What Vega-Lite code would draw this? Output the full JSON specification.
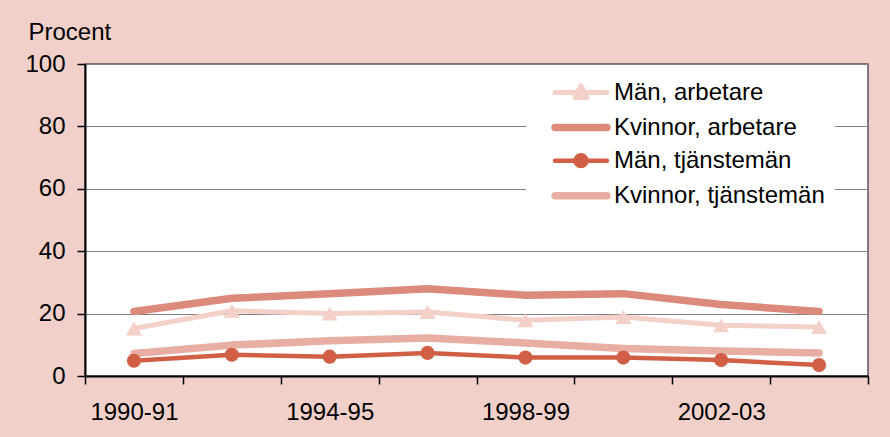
{
  "$schema": "https://vega.github.io/schema/vega-lite/v6.json",
  "autosize": "none",
  "width": 783,
  "height": 312,
  "padding": {"left": 85, "top": 64, "right": 22, "bottom": 61},
  "background": "#F1D0CA",
  "config": {
    "view": {"fill": "white", "stroke": "#555555", "strokeWidth": 1.5},
    "font": "Liberation Sans",
    "axis": {"labelFont": "Liberation Sans", "titleFont": "Liberation Sans", "labelColor": "black", "titleColor": "black"},
    "legend": {"labelFont": "Liberation Sans"}
  },
  "data": {
    "values": [
      {"period": "1990-91", "series": "Män, arbetare", "value": 15.2},
      {"period": "1992-93", "series": "Män, arbetare", "value": 20.9},
      {"period": "1994-95", "series": "Män, arbetare", "value": 20.0},
      {"period": "1996-97", "series": "Män, arbetare", "value": 20.5},
      {"period": "1998-99", "series": "Män, arbetare", "value": 17.9},
      {"period": "2000-01", "series": "Män, arbetare", "value": 18.9},
      {"period": "2002-03", "series": "Män, arbetare", "value": 16.3},
      {"period": "2004-05", "series": "Män, arbetare", "value": 15.7},
      {"period": "1990-91", "series": "Kvinnor, arbetare", "value": 20.7},
      {"period": "1992-93", "series": "Kvinnor, arbetare", "value": 24.9},
      {"period": "1994-95", "series": "Kvinnor, arbetare", "value": 26.4},
      {"period": "1996-97", "series": "Kvinnor, arbetare", "value": 28.0},
      {"period": "1998-99", "series": "Kvinnor, arbetare", "value": 25.9},
      {"period": "2000-01", "series": "Kvinnor, arbetare", "value": 26.4},
      {"period": "2002-03", "series": "Kvinnor, arbetare", "value": 22.9},
      {"period": "2004-05", "series": "Kvinnor, arbetare", "value": 20.7},
      {"period": "1990-91", "series": "Kvinnor, tjänstemän", "value": 7.2},
      {"period": "1992-93", "series": "Kvinnor, tjänstemän", "value": 9.9},
      {"period": "1994-95", "series": "Kvinnor, tjänstemän", "value": 11.3},
      {"period": "1996-97", "series": "Kvinnor, tjänstemän", "value": 12.2},
      {"period": "1998-99", "series": "Kvinnor, tjänstemän", "value": 10.6},
      {"period": "2000-01", "series": "Kvinnor, tjänstemän", "value": 8.8},
      {"period": "2002-03", "series": "Kvinnor, tjänstemän", "value": 8.0},
      {"period": "2004-05", "series": "Kvinnor, tjänstemän", "value": 7.4},
      {"period": "1990-91", "series": "Män, tjänstemän", "value": 4.9},
      {"period": "1992-93", "series": "Män, tjänstemän", "value": 6.8},
      {"period": "1994-95", "series": "Män, tjänstemän", "value": 6.2},
      {"period": "1996-97", "series": "Män, tjänstemän", "value": 7.4},
      {"period": "1998-99", "series": "Män, tjänstemän", "value": 5.9},
      {"period": "2000-01", "series": "Män, tjänstemän", "value": 5.9},
      {"period": "2002-03", "series": "Män, tjänstemän", "value": 5.1},
      {"period": "2004-05", "series": "Män, tjänstemän", "value": 3.5}
    ]
  },
  "encoding": {
    "x": {
      "field": "period", "type": "ordinal", "sort": null,
      "scale": {"type": "band", "paddingInner": 0, "paddingOuter": 0},
      "axis": {
        "title": null, "labelAngle": 0, "labelFontSize": 24, "labelPadding": 16,
        "tickBand": "extent", "tickSize": 8, "tickColor": "black", "tickWidth": 1.5,
        "domainColor": "black", "domainWidth": 2,
        "labelExpr": "indexof(['1990-91','1994-95','1998-99','2002-03'], datum.value) >= 0 ? datum.label : ''"
      }
    },
    "y": {
      "field": "value", "type": "quantitative",
      "scale": {"domain": [0, 100], "nice": false},
      "axis": {
        "values": [0, 20, 40, 60, 80, 100],
        "title": "Procent", "titleAngle": 0, "titleAlign": "left", "titleBaseline": "alphabetic",
        "titleX": -57, "titleY": -25, "titleFontSize": 24, "titleFontWeight": "normal",
        "labelFontSize": 24, "labelPadding": 12, "tickSize": 8, "tickColor": "black", "tickWidth": 1.5,
        "domainColor": "black", "domainWidth": 2,
        "grid": true, "gridColor": "#808080", "gridWidth": 1
      }
    }
  },
  "layer": [
    {
      "mark": {"type": "line", "strokeCap": "round", "strokeJoin": "round"},
      "encoding": {
        "color": {
          "field": "series", "type": "nominal",
          "scale": {
            "domain": ["Män, arbetare", "Kvinnor, arbetare", "Män, tjänstemän", "Kvinnor, tjänstemän"],
            "range": ["#F3D0C8", "#DC8A7B", "#D05F45", "#E8AEA3"]
          },
          "legend": {
            "title": null, "orient": "none", "legendX": 441, "legendY": 1,
            "fillColor": "white", "strokeColor": null, "padding": 10,
            "labelFontSize": 24, "labelColor": "black", "labelOffset": 14, "labelLimit": 400,
            "symbolSize": 900, "symbolStrokeWidth": 0, "symbolOffset": 26, "rowPadding": 3.6,
            "encode": {
              "symbols": {
                "update": {
                  "shape": {"signal": "datum.value === 'Män, arbetare' ? 'M-1.73,0H1.73M-0.4,0.34L0,-0.44L0.4,0.34Z' : datum.value === 'Män, tjänstemän' ? 'M-1.73,0H1.73M0.36,0A0.36,0.36,0,1,1,-0.36,0A0.36,0.36,0,1,1,0.36,0Z' : 'M-1.73,0H1.73'"},
                  "strokeWidth": {"signal": "indexof(datum.value, 'Kvinnor') === 0 ? 8 : 4.5"},
                  "fill": {"scale": "color", "field": "value"},
                  "stroke": {"scale": "color", "field": "value"},
                  "strokeCap": {"value": "round"},
                  "strokeJoin": {"value": "round"},
                  "size": {"value": 900},
                  "opacity": {"value": 1}
                }
              }
            }
          }
        },
        "strokeWidth": {
          "field": "series", "type": "nominal",
          "scale": {
            "type": "ordinal",
            "domain": ["Män, arbetare", "Kvinnor, arbetare", "Män, tjänstemän", "Kvinnor, tjänstemän"],
            "range": [5, 7.5, 4.5, 7.5]
          },
          "legend": null
        }
      }
    },
    {
      "transform": [{"filter": "indexof(datum.series, 'Män') === 0"}],
      "mark": {"type": "point", "filled": true, "opacity": 1},
      "encoding": {
        "color": {"field": "series", "type": "nominal", "legend": null},
        "shape": {
          "field": "series", "type": "nominal",
          "scale": {"domain": ["Män, arbetare", "Män, tjänstemän"], "range": ["triangle-up", "circle"]},
          "legend": null
        },
        "size": {
          "field": "series", "type": "nominal",
          "scale": {"type": "ordinal", "domain": ["Män, arbetare", "Män, tjänstemän"], "range": [260, 200]},
          "legend": null
        }
      }
    }
  ]
}
